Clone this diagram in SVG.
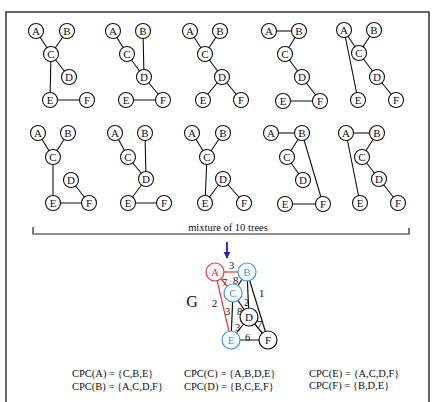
<svg xmlns="http://www.w3.org/2000/svg" width="436" height="402" viewBox="0 0 436 402">
<defs>
<style>
.t circle{fill:#fff;stroke:#111;stroke-width:1.1}
.t text,.g text{font-family:"Liberation Serif",serif;font-size:11px;text-anchor:middle;fill:#111}
.e line{stroke:#111;stroke-width:1.1}
.lbl{font-family:"Liberation Serif",serif;font-size:10.5px;fill:#111}
.w{font-family:"Liberation Serif",serif;font-size:10.5px;fill:#111}
.gc circle{fill:#fff;stroke-width:1.2}
.red circle{stroke:#e03a3a}.red text{fill:#e03a3a}
.blue circle{stroke:#3a9ae0}.blue text{fill:#3a9ae0}
.blk circle{stroke:#111}
</style>
<marker id="ah" viewBox="0 0 10 10" refX="9" refY="5" markerWidth="4" markerHeight="4" orient="auto"><path d="M0,0 L10,5 L0,10 z" fill="#2222bb"/></marker>
</defs>
<rect width="436" height="402" fill="#fff"/>
<path d="M6,402 V12 H429 V402" fill="none" stroke="#333" stroke-width="1.5"/>

<!-- Tree 1 -->
<g id="tree1" class="t">
<g class="e"><line x1="36" y1="31" x2="51" y2="54"/><line x1="67" y1="31" x2="51" y2="54"/><line x1="51" y1="54" x2="69" y2="77"/><line x1="51" y1="54" x2="50" y2="100"/><line x1="50" y1="100" x2="87" y2="100"/></g>
<circle cx="36" cy="31" r="7.5"/><text x="36" y="35">A</text>
<circle cx="67" cy="31" r="7.5"/><text x="67" y="35">B</text>
<circle cx="51" cy="54" r="7.5"/><text x="51" y="58">C</text>
<circle cx="69" cy="77" r="7.5"/><text x="69" y="81">D</text>
<circle cx="50" cy="100" r="7.5"/><text x="50" y="104">E</text>
<circle cx="87" cy="100" r="7.5"/><text x="87" y="104">F</text>
</g>
<!-- Tree 2 -->
<g id="tree2" class="t">
<g class="e"><line x1="113" y1="31" x2="127" y2="54"/><line x1="127" y1="54" x2="144" y2="77"/><line x1="143" y1="31" x2="144" y2="77"/><line x1="144" y1="77" x2="163" y2="100"/><line x1="126" y1="100" x2="163" y2="100"/></g>
<circle cx="113" cy="31" r="7.5"/><text x="113" y="35">A</text>
<circle cx="143" cy="31" r="7.5"/><text x="143" y="35">B</text>
<circle cx="127" cy="54" r="7.5"/><text x="127" y="58">C</text>
<circle cx="144" cy="77" r="7.5"/><text x="144" y="81">D</text>
<circle cx="126" cy="100" r="7.5"/><text x="126" y="104">E</text>
<circle cx="163" cy="100" r="7.5"/><text x="163" y="104">F</text>
</g>
<!-- Tree 3 -->
<g id="tree3" class="t">
<g class="e"><line x1="190" y1="31" x2="205" y2="54"/><line x1="220" y1="31" x2="205" y2="54"/><line x1="205" y1="54" x2="222" y2="77"/><line x1="222" y1="77" x2="241" y2="100"/><line x1="222" y1="77" x2="203" y2="100"/></g>
<circle cx="190" cy="31" r="7.5"/><text x="190" y="35">A</text>
<circle cx="220" cy="31" r="7.5"/><text x="220" y="35">B</text>
<circle cx="205" cy="54" r="7.5"/><text x="205" y="58">C</text>
<circle cx="222" cy="77" r="7.5"/><text x="222" y="81">D</text>
<circle cx="203" cy="100" r="7.5"/><text x="203" y="104">E</text>
<circle cx="241" cy="100" r="7.5"/><text x="241" y="104">F</text>
</g>
<!-- Tree 4 -->
<g id="tree4" class="t">
<g class="e"><line x1="269" y1="31" x2="299" y2="31"/><line x1="299" y1="31" x2="285" y2="54"/><line x1="285" y1="54" x2="302" y2="77"/><line x1="302" y1="77" x2="320" y2="101"/><line x1="283" y1="101" x2="320" y2="101"/></g>
<circle cx="269" cy="31" r="7.5"/><text x="269" y="35">A</text>
<circle cx="299" cy="31" r="7.5"/><text x="299" y="35">B</text>
<circle cx="285" cy="54" r="7.5"/><text x="285" y="58">C</text>
<circle cx="302" cy="77" r="7.5"/><text x="302" y="81">D</text>
<circle cx="283" cy="101" r="7.5"/><text x="283" y="105">E</text>
<circle cx="320" cy="101" r="7.5"/><text x="320" y="105">F</text>
</g>
<!-- Tree 5 -->
<g id="tree5" class="t">
<g class="e"><line x1="344" y1="30" x2="359" y2="53"/><line x1="374" y1="30" x2="359" y2="53"/><line x1="359" y1="53" x2="377" y2="77"/><line x1="377" y1="77" x2="396" y2="100"/><line x1="344" y1="30" x2="358" y2="100"/></g>
<circle cx="344" cy="30" r="7.5"/><text x="344" y="34">A</text>
<circle cx="374" cy="30" r="7.5"/><text x="374" y="34">B</text>
<circle cx="359" cy="53" r="7.5"/><text x="359" y="57">C</text>
<circle cx="377" cy="77" r="7.5"/><text x="377" y="81">D</text>
<circle cx="358" cy="100" r="7.5"/><text x="358" y="104">E</text>
<circle cx="396" cy="100" r="7.5"/><text x="396" y="104">F</text>
</g>
<!-- Tree 6 -->
<g id="tree6" class="t">
<g class="e"><line x1="38" y1="133" x2="53" y2="157"/><line x1="68" y1="133" x2="53" y2="157"/><line x1="53" y1="157" x2="53" y2="203"/><line x1="53" y1="203" x2="89" y2="203"/><line x1="71" y1="180" x2="89" y2="203"/></g>
<circle cx="38" cy="133" r="7.5"/><text x="38" y="137">A</text>
<circle cx="68" cy="133" r="7.5"/><text x="68" y="137">B</text>
<circle cx="53" cy="157" r="7.5"/><text x="53" y="161">C</text>
<circle cx="71" cy="180" r="7.5"/><text x="71" y="184">D</text>
<circle cx="53" cy="203" r="7.5"/><text x="53" y="207">E</text>
<circle cx="89" cy="203" r="7.5"/><text x="89" y="207">F</text>
</g>
<!-- Tree 7 -->
<g id="tree7" class="t">
<g class="e"><line x1="115" y1="133" x2="128" y2="157"/><line x1="128" y1="157" x2="146" y2="179"/><line x1="145" y1="133" x2="146" y2="179"/><line x1="146" y1="179" x2="128" y2="203"/><line x1="128" y1="203" x2="164" y2="203"/></g>
<circle cx="115" cy="133" r="7.5"/><text x="115" y="137">A</text>
<circle cx="145" cy="133" r="7.5"/><text x="145" y="137">B</text>
<circle cx="128" cy="157" r="7.5"/><text x="128" y="161">C</text>
<circle cx="146" cy="179" r="7.5"/><text x="146" y="183">D</text>
<circle cx="128" cy="203" r="7.5"/><text x="128" y="207">E</text>
<circle cx="164" cy="203" r="7.5"/><text x="164" y="207">F</text>
</g>
<!-- Tree 8 -->
<g id="tree8" class="t">
<g class="e"><line x1="192" y1="133" x2="207" y2="157"/><line x1="223" y1="133" x2="207" y2="157"/><line x1="207" y1="157" x2="205" y2="203"/><line x1="205" y1="203" x2="223" y2="179"/><line x1="223" y1="179" x2="244" y2="203"/></g>
<circle cx="192" cy="133" r="7.5"/><text x="192" y="137">A</text>
<circle cx="223" cy="133" r="7.5"/><text x="223" y="137">B</text>
<circle cx="207" cy="157" r="7.5"/><text x="207" y="161">C</text>
<circle cx="223" cy="179" r="7.5"/><text x="223" y="183">D</text>
<circle cx="205" cy="203" r="7.5"/><text x="205" y="207">E</text>
<circle cx="244" cy="203" r="7.5"/><text x="244" y="207">F</text>
</g>
<!-- Tree 9 -->
<g id="tree9" class="t">
<g class="e"><line x1="271" y1="133" x2="302" y2="133"/><line x1="302" y1="133" x2="287" y2="157"/><line x1="287" y1="157" x2="303" y2="180"/><line x1="302" y1="133" x2="323" y2="204"/><line x1="285" y1="204" x2="323" y2="204"/></g>
<circle cx="271" cy="133" r="7.5"/><text x="271" y="137">A</text>
<circle cx="302" cy="133" r="7.5"/><text x="302" y="137">B</text>
<circle cx="287" cy="157" r="7.5"/><text x="287" y="161">C</text>
<circle cx="303" cy="180" r="7.5"/><text x="303" y="184">D</text>
<circle cx="285" cy="204" r="7.5"/><text x="285" y="208">E</text>
<circle cx="323" cy="204" r="7.5"/><text x="323" y="208">F</text>
</g>
<!-- Tree 10 -->
<g id="tree10" class="t">
<g class="e"><line x1="346" y1="133" x2="377" y2="133"/><line x1="377" y1="133" x2="362" y2="157"/><line x1="362" y1="157" x2="379" y2="179"/><line x1="379" y1="179" x2="398" y2="203"/><line x1="346" y1="133" x2="360" y2="203"/></g>
<circle cx="346" cy="133" r="7.5"/><text x="346" y="137">A</text>
<circle cx="377" cy="133" r="7.5"/><text x="377" y="137">B</text>
<circle cx="362" cy="157" r="7.5"/><text x="362" y="161">C</text>
<circle cx="379" cy="179" r="7.5"/><text x="379" y="183">D</text>
<circle cx="360" cy="203" r="7.5"/><text x="360" y="207">E</text>
<circle cx="398" cy="203" r="7.5"/><text x="398" y="207">F</text>
</g>

<!-- bracket -->
<g id="bracket">
<path d="M33,227 V234 H409 V228" fill="none" stroke="#222" stroke-width="1.2"/>
<text class="w" x="228" y="231" text-anchor="middle">mixture of 10 trees</text>
</g>

<!-- Graph G -->
<g id="connectors">
<line x1="227" y1="242" x2="227" y2="258" stroke="#2222bb" stroke-width="1.8" marker-end="url(#ah)"/>
<g stroke="#e03a3a" stroke-width="1.2">
<line x1="215" y1="272" x2="247" y2="272"/>
<line x1="215" y1="272" x2="233" y2="293"/>
<line x1="215" y1="272" x2="231" y2="340"/>
</g>
<g stroke="#111" stroke-width="1.2">
<line x1="247" y1="272" x2="233" y2="293"/>
<line x1="247" y1="272" x2="249" y2="317"/>
<line x1="247" y1="272" x2="268" y2="340"/>
<line x1="233" y1="293" x2="249" y2="317"/>
<line x1="233" y1="293" x2="231" y2="340"/>
<line x1="249" y1="317" x2="231" y2="340"/>
<line x1="249" y1="317" x2="268" y2="340"/>
<line x1="231" y1="340" x2="268" y2="340"/>
</g>
<g class="lbl">
<text x="229" y="269">3</text>
<text x="222" y="286">7</text>
<text x="233" y="284">8</text>
<text x="212" y="307">2</text>
<text x="244" y="306">2</text>
<text x="259" y="297">1</text>
<text x="237" y="315">8</text>
<text x="225" y="315">3</text>
<text x="235" y="331">3</text>
<text x="257" y="328">7</text>
<text x="245" y="341">6</text>
</g>
</g>
<text x="192" y="307" font-family="Liberation Serif,serif" font-size="16" text-anchor="middle" fill="#111">G</text>
<g class="g">
<g id="nA" class="gc red"><circle cx="215" cy="272" r="9"/><text x="215" y="276">A</text></g>
<g id="nB" class="gc blue"><circle cx="247" cy="272" r="9"/><text x="247" y="276">B</text></g>
<g id="nC" class="gc blue"><circle cx="233" cy="293" r="9"/><text x="233" y="297">C</text></g>
<g id="nD" class="gc blk"><circle cx="249" cy="317" r="9"/><text x="249" y="321">D</text></g>
<g id="nE" class="gc blue"><circle cx="231" cy="340" r="9"/><text x="231" y="344">E</text></g>
<g id="nF" class="gc blk"><circle cx="268" cy="340" r="9"/><text x="268" y="344">F</text></g>
</g>

<!-- CPC -->
<g id="cpc" class="w">
<text x="72" y="377">CPC(A) = {C,B,E}</text>
<text x="72" y="390">CPC(B) = {A,C,D,F}</text>
<text x="184" y="377">CPC(C) = {A,B,D,E}</text>
<text x="184" y="390">CPC(D) = {B,C,E,F}</text>
<text x="309" y="377">CPC(E) = {A,C,D,F}</text>
<text x="309" y="389">CPC(F) = {B,D,E}</text>
</g>
</svg>
